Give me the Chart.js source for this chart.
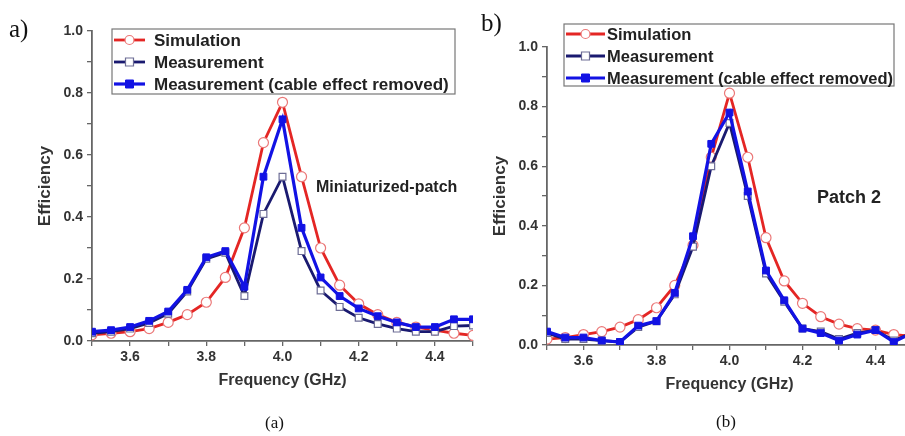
<!DOCTYPE html>
<html>
<head>
<meta charset="utf-8">
<script src="https://cdn.jsdelivr.net/npm/chart.js@4.4.1/dist/chart.umd.min.js"></script>
<style>
    html, body { margin: 0; padding: 0; background: #fff; }
    #wrap { position: relative; width: 905px; height: 436px; overflow: hidden; }
    canvas { position: absolute; top: 0; }
    .lbl { position: absolute; font-family: "Liberation Serif", "DejaVu Serif", serif; color: #111; }
</style>
</head>
<body>
<div id="wrap">
    <canvas id="chartA" width="480" height="436" style="left:0"></canvas>
    <canvas id="chartB" width="470" height="436" style="left:450px"></canvas>
    <div class="lbl" style="left:9px;top:15px;font-size:25px">a)</div>
    <div class="lbl" style="left:481px;top:9px;font-size:25px">b)</div>
    <div class="lbl" style="left:265px;top:413px;font-size:17px">(a)</div>
    <div class="lbl" style="left:716px;top:412px;font-size:17px">(b)</div>
</div>
<script>
// frequency points (GHz)
const freq = [3.5, 3.55, 3.6, 3.65, 3.7, 3.75, 3.8, 3.85, 3.9, 3.95, 4.0,
    4.05, 4.1, 4.15, 4.2, 4.25, 4.3, 4.35, 4.4, 4.45, 4.5];

// (a) miniaturized patch
const simA = [0.02, 0.025, 0.03, 0.04, 0.06, 0.085, 0.125, 0.205, 0.365, 0.64, 0.77,
    0.53, 0.30, 0.18, 0.12, 0.085, 0.06, 0.045, 0.035, 0.025, 0.018];
const measA = [0.025, 0.03, 0.04, 0.058, 0.088, 0.16, 0.265, 0.285, 0.145, 0.41, 0.53,
    0.29, 0.163, 0.11, 0.075, 0.055, 0.04, 0.03, 0.03, 0.048, 0.05];
const cableA = [0.03, 0.035, 0.045, 0.065, 0.095, 0.165, 0.27, 0.29, 0.175, 0.53, 0.715,
    0.365, 0.205, 0.145, 0.105, 0.08, 0.06, 0.045, 0.045, 0.07, 0.07];

// (b) patch 2
const simB = [0.02, 0.025, 0.035, 0.045, 0.06, 0.085, 0.125, 0.2, 0.335, 0.63, 0.845,
    0.63, 0.36, 0.215, 0.14, 0.095, 0.07, 0.055, 0.05, 0.035, 0.03];
const measB = [0.04, 0.02, 0.02, 0.015, 0.01, 0.06, 0.08, 0.17, 0.33, 0.6, 0.745,
    0.5, 0.24, 0.145, 0.055, 0.045, 0.02, 0.04, 0.05, 0.015, 0.04];
const cableB = [0.045, 0.025, 0.025, 0.015, 0.01, 0.065, 0.08, 0.175, 0.365, 0.675, 0.78,
    0.515, 0.25, 0.15, 0.055, 0.04, 0.015, 0.035, 0.05, 0.01, 0.04];

const seriesNames = ['Simulation', 'Measurement', 'Measurement (cable effect removed)'];
const yTicks = [0.0, 0.2, 0.4, 0.6, 0.8, 1.0];
const xTicks = [3.6, 3.8, 4.0, 4.2, 4.4];

const RED = 'rgb(228, 38, 36)';
const NAVY = 'rgb(26, 26, 112)';
const BLUE = 'rgb(18, 18, 228)';
const FONT = '"Liberation Sans", Arial, sans-serif';

function makeDatasets(sim, meas, cable) {
    return [{
        label: seriesNames[0],
        data: freq.map((f, i) => ({ x: f, y: sim[i] })),
        order: 3,
        borderColor: RED, borderWidth: 2.8,
        pointStyle: 'circle', pointRadius: 5,
        pointBackgroundColor: '#fff', pointBorderColor: 'rgb(235, 120, 120)', pointBorderWidth: 1.2
    }, {
        label: seriesNames[1],
        data: freq.map((f, i) => ({ x: f, y: meas[i] })),
        order: 2,
        borderColor: NAVY, borderWidth: 2.8,
        pointStyle: 'rect', pointRadius: 4.8,
        pointBackgroundColor: '#fff', pointBorderColor: 'rgb(110, 110, 150)', pointBorderWidth: 1.2
    }, {
        label: seriesNames[2],
        data: freq.map((f, i) => ({ x: f, y: cable[i] })),
        order: 1,
        borderColor: BLUE, borderWidth: 3.2,
        pointStyle: 'rect', pointRadius: 4.8,
        pointBackgroundColor: BLUE, pointBorderColor: BLUE, pointBorderWidth: 1
    }];
}

// legend box + side note drawn on the canvas
const boxPlugin = {
    id: 'boxPlugin',
    afterDraw(chart, args, opts) {
        const ctx = chart.ctx;
        const lg = opts.legend;
        ctx.save();
        ctx.fillStyle = '#fff';
        ctx.fillRect(lg.x, lg.y, lg.w, lg.h);
        ctx.strokeStyle = '#777';
        ctx.lineWidth = 1.2;
        ctx.strokeRect(lg.x, lg.y, lg.w, lg.h);
        chart.data.datasets.forEach((ds, i) => {
            const y = lg.rows[i];
            ctx.strokeStyle = ds.borderColor;
            ctx.lineWidth = ds.borderWidth;
            ctx.beginPath();
            ctx.moveTo(lg.x + 2, y);
            ctx.lineTo(lg.x + lg.sample, y);
            ctx.stroke();
            const mx = lg.x + 2 + (lg.sample - 2) / 2;
            ctx.fillStyle = ds.pointBackgroundColor;
            ctx.strokeStyle = ds.pointBorderColor;
            ctx.lineWidth = ds.pointBorderWidth;
            ctx.beginPath();
            if (ds.pointStyle === 'circle') ctx.arc(mx, y, 4.5, 0, Math.PI * 2);
            else ctx.rect(mx - 4, y - 4, 8, 8);
            ctx.fill();
            ctx.stroke();
            ctx.fillStyle = '#222';
            ctx.font = 'bold ' + lg.font + 'px ' + FONT;
            ctx.textBaseline = 'middle';
            ctx.fillText(ds.label, lg.x + lg.sample + lg.gap, y + 1);
        });
        ctx.fillStyle = '#222';
        ctx.font = 'bold ' + opts.note.size + 'px ' + FONT;
        ctx.textBaseline = 'middle';
        ctx.fillText(opts.note.text, opts.note.x, opts.note.y);
        ctx.restore();
    }
};

function makeChart(id, datasets, layout) {
    return new Chart(document.getElementById(id).getContext('2d'), {
        type: 'line',
        data: { datasets: datasets },
        plugins: [boxPlugin],
        options: {
            responsive: false,
            animation: false,
            layout: { padding: layout.padding },
            plugins: {
                legend: { display: false },
                tooltip: { enabled: false },
                boxPlugin: layout.box
            },
            scales: {
                x: {
                    type: 'linear', min: 3.5, max: 4.5,
                    afterFit: (s) => { s.height = 49; },
                    border: { color: '#666', width: 1.8 },
                    grid: { drawOnChartArea: false, tickLength: 5, color: '#666', lineWidth: 1.3 },
                    ticks: {
                        stepSize: 0.1, padding: 3, color: '#333', autoSkip: false, maxRotation: 0,
                        font: { family: FONT, size: 14, weight: 'bold' },
                        callback: (v) => {
                            const t = xTicks.find(k => Math.abs(k - v) < 1e-6);
                            return t === undefined ? '' : t.toFixed(1);
                        }
                    },
                    title: {
                        display: true, text: 'Frequency (GHz)', color: '#333',
                        padding: { top: 0, bottom: 0 },
                        font: { family: FONT, size: 16, weight: 'bold' }
                    }
                },
                y: {
                    min: 0, max: 1.0,
                    afterFit: (s) => { s.width = layout.yWidth; },
                    border: { color: '#666', width: 1.8 },
                    grid: { drawOnChartArea: false, tickLength: 5, color: '#666', lineWidth: 1.3 },
                    ticks: {
                        stepSize: 0.1, padding: 4, color: '#333', autoSkip: false,
                        font: { family: FONT, size: 14, weight: 'bold' },
                        callback: (v) => {
                            const t = yTicks.find(k => Math.abs(k - v) < 1e-6);
                            return t === undefined ? '' : t.toFixed(1);
                        }
                    },
                    title: {
                        display: true, text: 'Efficiency', color: '#333',
                        padding: { top: layout.titlePad, bottom: 0 },
                        font: { family: FONT, size: 17, weight: 'bold' }
                    }
                }
            }
        }
    });
}

makeChart('chartA', makeDatasets(simA, measA, cableA), {
    padding: { left: 0, top: 31, right: 7, bottom: 46 },
    yWidth: 92,
    titlePad: 35,
    box: {
        legend: { x: 112, y: 29, w: 343, h: 65, sample: 33, gap: 9, font: 17, rows: [40, 62, 84] },
        note: { text: 'Miniaturized-patch', x: 316, y: 188, size: 16 }
    }
});

makeChart('chartB', makeDatasets(simB, measB, cableB), {
    padding: { left: 0, top: 47, right: 8, bottom: 42 },
    yWidth: 97,
    titlePad: 40,
    box: {
        legend: { x: 114, y: 24, w: 330, h: 62, sample: 41, gap: 2, font: 16.5, rows: [34, 56, 78] },
        note: { text: 'Patch 2', x: 367, y: 198, size: 18 }
    }
});
</script>
</body>
</html>
